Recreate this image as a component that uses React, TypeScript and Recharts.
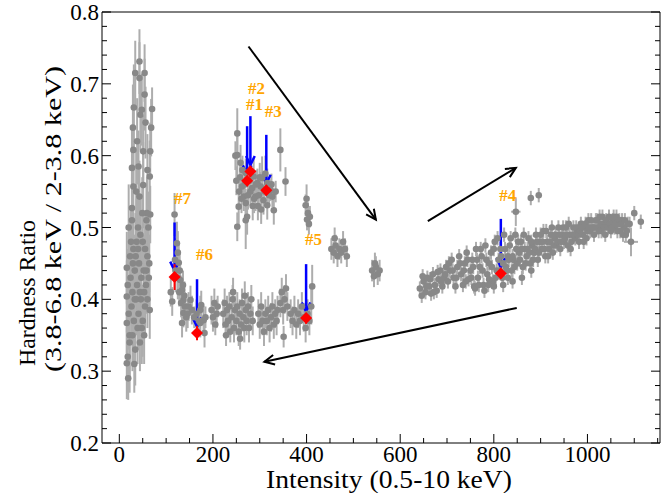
import React from 'react';
import { ScatterChart, Scatter, XAxis, YAxis, ErrorBar, ReferenceLine } from 'recharts';

// [intensity, hardness ratio, y error, x error]
type Pt = [number, number, number, number];

const lowStateColumn: Pt[] = [
  [43, 0.731, 0.045, 0], [34, 0.715, 0.045, 0], [54, 0.715, 0.04, 0], [43, 0.708, 0.05, 0],
  [31, 0.667, 0.06, 0], [70, 0.665, 0.03, 0], [45, 0.657, 0.05, 0], [54, 0.685, 0.05, 0],
  [29, 0.639, 0.06, 0], [56, 0.646, 0.05, 0], [68, 0.639, 0.04, 0], [48, 0.664, 0.05, 0],
  [51, 0.606, 0.05, 0], [66, 0.606, 0.04, 0], [30, 0.608, 0.06, 0], [41, 0.585, 0.05, 0],
  [27, 0.583, 0.06, 0], [65, 0.571, 0.05, 0], [51, 0.559, 0.06, 0], [30, 0.557, 0.06, 0],
  [43, 0.543, 0.05, 0], [27, 0.527, 0.06, 0], [59, 0.52, 0.05, 0], [66, 0.518, 0.04, 0],
  [16, 0.444, 0.05, 0], [16, 0.404, 0.05, 0], [16, 0.367, 0.05, 0], [16, 0.311, 0.05, 0],
  [19, 0.29, 0.03, 0], [22, 0.35, 0.08, 0], [65, 0.385, 0.04, 0], [20, 0.5, 0.06, 0],
  [25, 0.48, 0.05, 0], [30, 0.47, 0.05, 0], [35, 0.46, 0.06, 0], [40, 0.5, 0.05, 0],
  [45, 0.49, 0.05, 0], [50, 0.48, 0.04, 0], [55, 0.47, 0.05, 0], [60, 0.46, 0.04, 0],
  [62, 0.5, 0.05, 0], [18, 0.42, 0.05, 0], [24, 0.43, 0.06, 0], [28, 0.41, 0.05, 0],
  [33, 0.44, 0.05, 0], [38, 0.42, 0.05, 0], [42, 0.45, 0.04, 0], [47, 0.43, 0.05, 0],
  [52, 0.44, 0.05, 0], [57, 0.42, 0.04, 0], [63, 0.43, 0.04, 0], [20, 0.38, 0.05, 0],
  [26, 0.39, 0.05, 0], [31, 0.37, 0.06, 0], [36, 0.4, 0.05, 0], [41, 0.38, 0.05, 0],
  [46, 0.4, 0.04, 0], [50, 0.37, 0.05, 0], [55, 0.39, 0.04, 0], [60, 0.4, 0.04, 0],
  [22, 0.34, 0.05, 0], [28, 0.35, 0.05, 0], [34, 0.33, 0.05, 0], [39, 0.36, 0.05, 0],
  [44, 0.34, 0.04, 0], [48, 0.36, 0.05, 0], [53, 0.35, 0.04, 0], [18, 0.32, 0.05, 0],
  [32, 0.31, 0.04, 0], [37, 0.48, 0.06, 0], [27, 0.51, 0.06, 0], [58, 0.51, 0.05, 0],
  [64, 0.45, 0.04, 0], [49, 0.52, 0.05, 0], [23, 0.46, 0.05, 0], [36, 0.55, 0.06, 0],
  [60, 0.58, 0.05, 0], [38, 0.62, 0.06, 0], [29, 0.45, 0.05, 0], [44, 0.41, 0.05, 0],
  [58, 0.44, 0.04, 0], [33, 0.4, 0.05, 0], [53, 0.41, 0.04, 0], [40, 0.47, 0.05, 0],
];

const decayBranch: Pt[] = [
  [118, 0.518, 0.03, 0], [123, 0.478, 0.03, 0], [127, 0.451, 0.025, 0], [130, 0.427, 0.02, 0],
  [134, 0.413, 0.02, 0], [137, 0.399, 0.02, 0], [113, 0.397, 0.02, 0], [152, 0.399, 0.02, 0],
  [155, 0.385, 0.02, 0], [137, 0.381, 0.02, 0], [134, 0.367, 0.02, 0], [173, 0.385, 0.02, 0],
  [180, 0.371, 0.02, 0], [182, 0.353, 0.02, 0], [173, 0.367, 0.02, 0], [120, 0.44, 0.03, 0],
  [125, 0.43, 0.03, 0], [128, 0.41, 0.02, 0], [132, 0.395, 0.02, 0], [140, 0.39, 0.02, 0],
  [143, 0.375, 0.02, 0], [146, 0.38, 0.02, 0], [148, 0.39, 0.02, 0], [125, 0.465, 0.03, 0],
  [119, 0.455, 0.03, 0], [129, 0.44, 0.025, 0], [136, 0.42, 0.02, 0], [139, 0.405, 0.02, 0],
  [160, 0.375, 0.015, 0], [165, 0.38, 0.02, 0], [170, 0.37, 0.015, 0], [175, 0.392, 0.02, 0],
  [184, 0.375, 0.015, 0], [110, 0.41, 0.02, 0],
];

const softBand: Pt[] = [
  [197, 0.385, 0.02, 0], [200, 0.375, 0.02, 0], [203, 0.395, 0.02, 0], [205, 0.365, 0.015, 0],
  [208, 0.38, 0.02, 0], [210, 0.39, 0.015, 0], [222, 0.38, 0.02, 0], [225, 0.395, 0.02, 0],
  [227, 0.365, 0.02, 0], [230, 0.385, 0.02, 0], [232, 0.37, 0.02, 0], [235, 0.39, 0.02, 0],
  [237, 0.355, 0.015, 0], [240, 0.375, 0.02, 0], [242, 0.4, 0.02, 0], [245, 0.36, 0.02, 0],
  [247, 0.385, 0.02, 0], [250, 0.37, 0.02, 0], [252, 0.39, 0.02, 0], [255, 0.355, 0.02, 0],
  [257, 0.38, 0.02, 0], [260, 0.365, 0.02, 0], [262, 0.395, 0.02, 0], [265, 0.375, 0.02, 0],
  [267, 0.36, 0.02, 0], [270, 0.385, 0.02, 0], [272, 0.37, 0.02, 0], [275, 0.39, 0.02, 0],
  [277, 0.36, 0.02, 0], [280, 0.38, 0.02, 0], [282, 0.4, 0.02, 0], [285, 0.37, 0.02, 0],
  [243, 0.41, 0.02, 0], [228, 0.35, 0.015, 0], [258, 0.345, 0.015, 0], [268, 0.405, 0.02, 0],
  [297, 0.38, 0.02, 0], [300, 0.365, 0.02, 0], [303, 0.39, 0.02, 0], [306, 0.37, 0.02, 0],
  [309, 0.355, 0.02, 0], [312, 0.38, 0.02, 0], [315, 0.37, 0.02, 0], [318, 0.385, 0.02, 0],
  [321, 0.36, 0.02, 0], [324, 0.375, 0.02, 0], [327, 0.39, 0.02, 0], [330, 0.365, 0.02, 0],
  [333, 0.38, 0.02, 0], [336, 0.37, 0.02, 0], [338, 0.385, 0.02, 0], [344, 0.395, 0.02, 0],
  [347, 0.41, 0.02, 0], [350, 0.385, 0.02, 0], [353, 0.4, 0.02, 0], [356, 0.415, 0.02, 0],
  [359, 0.39, 0.02, 0], [351, 0.348, 0.015, 0], [366, 0.38, 0.02, 0], [370, 0.37, 0.02, 0],
  [374, 0.385, 0.02, 0], [378, 0.365, 0.02, 0], [382, 0.38, 0.02, 0], [386, 0.37, 0.02, 0],
  [390, 0.39, 0.02, 0], [394, 0.375, 0.02, 0], [398, 0.36, 0.02, 0], [402, 0.38, 0.02, 0],
  [406, 0.37, 0.02, 0], [410, 0.39, 0.025, 0], [412, 0.418, 0.03, 0],
];

const hardCluster: Pt[] = [
  [252, 0.631, 0.035, 0], [252, 0.601, 0.03, 0], [259, 0.59, 0.025, 0], [270, 0.576, 0.02, 0],
  [262, 0.557, 0.02, 0], [255, 0.529, 0.025, 0], [270, 0.534, 0.02, 0], [291, 0.543, 0.02, 0],
  [287, 0.571, 0.025, 0], [295, 0.562, 0.02, 0], [302, 0.557, 0.02, 0], [305, 0.569, 0.03, 0],
  [316, 0.562, 0.02, 0], [323, 0.552, 0.015, 0], [327, 0.543, 0.015, 0], [334, 0.55, 0.015, 0],
  [330, 0.524, 0.02, 0], [344, 0.608, 0.03, 0], [355, 0.564, 0.02, 0], [273, 0.515, 0.025, 0],
  [266, 0.543, 0.02, 0], [280, 0.55, 0.02, 0], [308, 0.538, 0.02, 0], [316, 0.531, 0.02, 0],
  [258, 0.57, 0.02, 0], [263, 0.58, 0.02, 0], [268, 0.56, 0.02, 0], [275, 0.545, 0.02, 0],
  [278, 0.565, 0.02, 0], [284, 0.555, 0.02, 0], [288, 0.54, 0.02, 0], [292, 0.56, 0.02, 0],
  [298, 0.545, 0.02, 0], [300, 0.57, 0.02, 0], [310, 0.55, 0.02, 0], [312, 0.575, 0.025, 0],
  [320, 0.545, 0.015, 0], [325, 0.56, 0.015, 0], [256, 0.55, 0.02, 0], [261, 0.54, 0.02, 0],
  [250, 0.565, 0.02, 0], [285, 0.53, 0.02, 0], [296, 0.53, 0.02, 0], [303, 0.525, 0.02, 0],
  [248, 0.6, 0.02, 0], [252, 0.501, 0.02, 0], [270, 0.51, 0.04, 0],
];

const transitionPts: Pt[] = [
  [398, 0.531, 0.015, 0], [401, 0.511, 0.015, 0], [403, 0.52, 0.015, 0], [405, 0.505, 0.015, 0],
  [400, 0.54, 0.02, 0], [407, 0.515, 0.015, 0], [453, 0.47, 0.015, 0], [458, 0.465, 0.015, 0],
  [462, 0.475, 0.015, 0], [466, 0.46, 0.015, 0], [470, 0.47, 0.015, 0], [474, 0.465, 0.015, 0],
  [478, 0.48, 0.015, 0], [482, 0.47, 0.015, 0], [486, 0.46, 0.015, 0], [460, 0.485, 0.015, 0],
  [540, 0.44, 0.015, 0], [544, 0.432, 0.015, 0], [548, 0.445, 0.015, 0], [552, 0.435, 0.015, 0],
  [556, 0.44, 0.015, 0], [546, 0.45, 0.015, 0],
];

const brightBand: Pt[] = [
  [642, 0.415, 0.01, 6], [646, 0.405, 0.01, 6], [650, 0.425, 0.01, 6], [654, 0.41, 0.01, 6],
  [658, 0.43, 0.01, 6], [662, 0.418, 0.01, 6], [666, 0.408, 0.01, 6], [670, 0.435, 0.01, 6],
  [674, 0.42, 0.01, 6], [678, 0.412, 0.01, 6], [682, 0.428, 0.01, 6], [686, 0.44, 0.01, 6],
  [690, 0.418, 0.01, 6], [694, 0.43, 0.01, 6], [698, 0.445, 0.01, 6], [702, 0.425, 0.01, 6],
  [706, 0.44, 0.01, 6], [710, 0.455, 0.01, 6], [714, 0.43, 0.01, 6], [718, 0.418, 0.01, 6],
  [722, 0.445, 0.01, 6], [726, 0.46, 0.01, 6], [730, 0.435, 0.01, 6], [734, 0.42, 0.01, 6],
  [738, 0.45, 0.01, 6], [742, 0.465, 0.01, 6], [746, 0.428, 0.01, 6], [750, 0.44, 0.01, 6],
  [754, 0.455, 0.01, 6], [758, 0.418, 0.01, 6], [762, 0.47, 0.01, 6], [766, 0.43, 0.01, 6],
  [770, 0.445, 0.01, 6], [774, 0.46, 0.01, 6], [778, 0.42, 0.01, 6], [782, 0.475, 0.01, 6],
  [786, 0.435, 0.01, 6], [790, 0.45, 0.01, 6], [794, 0.465, 0.01, 6], [798, 0.425, 0.01, 6],
  [802, 0.48, 0.01, 6], [806, 0.44, 0.01, 6], [810, 0.455, 0.01, 6], [814, 0.47, 0.01, 6],
  [818, 0.43, 0.01, 6], [822, 0.49, 0.01, 6], [826, 0.445, 0.01, 6], [830, 0.46, 0.01, 6],
  [834, 0.475, 0.01, 6], [838, 0.44, 0.01, 6], [842, 0.455, 0.01, 6], [846, 0.49, 0.01, 6],
  [850, 0.45, 0.01, 6], [854, 0.465, 0.01, 6], [858, 0.48, 0.01, 6], [862, 0.445, 0.01, 6],
  [866, 0.47, 0.01, 6], [870, 0.46, 0.01, 6], [874, 0.485, 0.01, 6], [878, 0.45, 0.01, 6],
  [882, 0.475, 0.01, 6], [886, 0.465, 0.01, 6], [890, 0.49, 0.01, 6], [894, 0.455, 0.01, 6],
  [898, 0.48, 0.01, 6], [902, 0.47, 0.01, 6], [906, 0.495, 0.01, 6], [910, 0.46, 0.01, 6],
  [914, 0.48, 0.01, 6], [918, 0.47, 0.01, 6], [922, 0.49, 0.01, 6], [926, 0.465, 0.01, 6],
  [930, 0.485, 0.01, 6], [934, 0.475, 0.01, 6], [938, 0.5, 0.01, 6], [942, 0.47, 0.01, 6],
  [946, 0.49, 0.01, 6], [950, 0.48, 0.01, 6], [954, 0.5, 0.01, 6], [958, 0.475, 0.01, 6],
  [962, 0.49, 0.01, 6], [966, 0.48, 0.01, 6], [970, 0.5, 0.01, 6], [974, 0.485, 0.01, 6],
  [978, 0.495, 0.01, 6], [982, 0.48, 0.01, 6], [986, 0.505, 0.01, 6], [990, 0.49, 0.01, 6],
  [994, 0.5, 0.01, 6], [998, 0.485, 0.01, 6], [1002, 0.51, 0.01, 6], [1006, 0.495, 0.01, 6],
  [1010, 0.5, 0.01, 6], [1014, 0.49, 0.01, 6], [1018, 0.51, 0.01, 6], [1022, 0.5, 0.01, 6],
  [1026, 0.515, 0.01, 6], [1030, 0.495, 0.01, 6], [1034, 0.505, 0.01, 6], [1038, 0.49, 0.01, 6],
  [1042, 0.505, 0.01, 6], [1046, 0.515, 0.01, 6], [1050, 0.495, 0.01, 6], [1054, 0.51, 0.01, 6],
  [1058, 0.5, 0.01, 6], [1062, 0.515, 0.01, 6], [1066, 0.505, 0.01, 6], [1070, 0.495, 0.01, 6],
  [1074, 0.51, 0.01, 6], [1078, 0.5, 0.01, 6], [1082, 0.49, 0.01, 6], [1086, 0.505, 0.01, 6],
  [1100, 0.52, 0.01, 6], [1114, 0.508, 0.01, 6], [1093, 0.48, 0.02, 15], [879, 0.541, 0.01, 6],
  [896, 0.545, 0.01, 6], [847, 0.522, 0.02, 10], [740, 0.425, 0.01, 6], [760, 0.415, 0.01, 6],
  [780, 0.412, 0.01, 6], [800, 0.418, 0.01, 6], [820, 0.42, 0.01, 6], [840, 0.425, 0.01, 6],
  [860, 0.43, 0.01, 6], [880, 0.44, 0.01, 6], [790, 0.428, 0.01, 6], [830, 0.43, 0.01, 6],
];

const brightBandFill: Pt[] = [
  [648, 0.432, 0.01, 6], [656, 0.418, 0.01, 6], [664, 0.428, 0.01, 6], [672, 0.41, 0.01, 6],
  [680, 0.438, 0.01, 6], [688, 0.425, 0.01, 6], [696, 0.435, 0.01, 6], [704, 0.45, 0.01, 6],
  [712, 0.44, 0.01, 6], [720, 0.43, 0.01, 6], [728, 0.45, 0.01, 6], [736, 0.44, 0.01, 6],
  [744, 0.455, 0.01, 6], [752, 0.43, 0.01, 6], [756, 0.445, 0.01, 6], [764, 0.455, 0.01, 6],
  [768, 0.42, 0.01, 6], [772, 0.47, 0.01, 6], [776, 0.44, 0.01, 6], [784, 0.455, 0.01, 6],
  [788, 0.42, 0.01, 6], [796, 0.445, 0.01, 6], [800, 0.47, 0.01, 6], [804, 0.43, 0.01, 6],
  [808, 0.485, 0.01, 6], [812, 0.44, 0.01, 6], [816, 0.46, 0.01, 6], [820, 0.45, 0.01, 6],
  [824, 0.47, 0.01, 6], [828, 0.44, 0.01, 6], [832, 0.455, 0.01, 6], [836, 0.485, 0.01, 6],
  [840, 0.46, 0.01, 6], [844, 0.445, 0.01, 6], [848, 0.47, 0.01, 6], [852, 0.48, 0.01, 6],
  [856, 0.455, 0.01, 6], [860, 0.47, 0.01, 6], [864, 0.49, 0.01, 6], [868, 0.45, 0.01, 6],
  [872, 0.47, 0.01, 6], [876, 0.465, 0.01, 6], [880, 0.48, 0.01, 6], [884, 0.455, 0.01, 6],
  [888, 0.47, 0.01, 6], [892, 0.48, 0.01, 6], [896, 0.465, 0.01, 6], [900, 0.49, 0.01, 6],
  [904, 0.48, 0.01, 6], [908, 0.47, 0.01, 6], [912, 0.495, 0.01, 6], [916, 0.46, 0.01, 6],
  [920, 0.48, 0.01, 6], [924, 0.5, 0.01, 6], [928, 0.475, 0.01, 6], [932, 0.49, 0.01, 6],
  [936, 0.48, 0.01, 6], [940, 0.49, 0.01, 6], [944, 0.48, 0.01, 6], [948, 0.5, 0.01, 6],
  [952, 0.485, 0.01, 6], [956, 0.49, 0.01, 6], [960, 0.505, 0.01, 6], [964, 0.47, 0.01, 6],
  [968, 0.49, 0.01, 6], [972, 0.49, 0.01, 6], [976, 0.5, 0.01, 6], [980, 0.49, 0.01, 6],
  [984, 0.495, 0.01, 6], [988, 0.5, 0.01, 6], [992, 0.48, 0.01, 6], [996, 0.505, 0.01, 6],
  [1000, 0.495, 0.01, 6], [1004, 0.5, 0.01, 6], [1008, 0.51, 0.01, 6], [1012, 0.5, 0.01, 6],
  [1016, 0.5, 0.01, 6], [1020, 0.51, 0.01, 6], [1024, 0.495, 0.01, 6], [1028, 0.505, 0.01, 6],
  [1032, 0.515, 0.01, 6], [1036, 0.5, 0.01, 6], [1040, 0.51, 0.01, 6], [1044, 0.5, 0.01, 6],
  [1048, 0.505, 0.01, 6], [1052, 0.5, 0.01, 6], [1056, 0.515, 0.01, 6], [1060, 0.505, 0.01, 6],
  [1064, 0.495, 0.01, 6], [1068, 0.51, 0.01, 6], [1072, 0.505, 0.01, 6], [1076, 0.49, 0.01, 6],
  [1080, 0.51, 0.01, 6], [1084, 0.495, 0.01, 6], [1090, 0.505, 0.01, 6],
];

// selected epochs #1..#7: position and y error
const epochNames = ['#1', '#2', '#3', '#4', '#5', '#6', '#7'];
const epochX = [273, 280, 314, 815, 399, 166, 118];
const epochY = [0.565, 0.578, 0.552, 0.436, 0.374, 0.353, 0.431];
const epochErr = [0.008, 0.008, 0.008, 0.008, 0.008, 0.01, 0.018];
const arrowTopY = [0.641, 0.655, 0.629, 0.512, 0.449, 0.428, 0.507];
const labelX = [289, 293, 329, 830, 415, 182, 135];
const labelY = [0.671, 0.693, 0.661, 0.545, 0.483, 0.462, 0.54];

// evolution arrows [x1, y1, x2, y2]
const trendArrows = [
  [276, 0.752, 548, 0.511],
  [659, 0.509, 847, 0.583],
  [849, 0.388, 310, 0.313],
];

const xTicks = [0, 50, 100, 150, 200, 250, 300, 350, 400, 450, 500, 550, 600, 650, 700, 750, 800, 850, 900, 950, 1000, 1050, 1100, 1150];
const yTicks = [0.2, 0.22, 0.24, 0.26, 0.28, 0.3, 0.32, 0.34, 0.36, 0.38, 0.4, 0.42, 0.44, 0.46, 0.48, 0.5, 0.52, 0.54, 0.56, 0.58, 0.6, 0.62, 0.64, 0.66, 0.68, 0.7, 0.72, 0.74, 0.76, 0.78, 0.8];

const X_DOMAIN: [number, number] = [-37, 1155];
const Y_DOMAIN: [number, number] = [0.2, 0.8];
const FONT = '"Liberation Serif", "Times New Roman", serif';

const grayData = [...lowStateColumn, ...decayBranch, ...softBand, ...hardCluster, ...transitionPts, ...brightBand, ...brightBandFill]
  .map(([x, y, ey, ex]) => ({ x, y, ey, ex }));
const epochData = epochNames.map((n, i) => ({ name: n, x: epochX[i], y: epochY[i], ey: epochErr[i] }));
const labelData = epochNames.map((n, i) => ({ name: n, x: labelX[i], y: labelY[i] }));

const isMajorY = (v: number) => Math.abs(v * 10 - Math.round(v * 10)) < 1e-6;

const BottomTick = (p: any) => {
  const v = p.payload.value;
  const major = v % 200 === 0;
  return (
    <g>
      <line x1={p.x} x2={p.x} y1={p.y} y2={p.y - (major ? 9 : 5)} stroke="#000" />
      {major && (
        <text x={p.x} y={p.y + 19} textAnchor="middle" fontSize={23} fontFamily={FONT} fill="#000">{v}</text>
      )}
    </g>
  );
};
const TopTick = (p: any) => {
  const major = p.payload.value % 200 === 0;
  return <line x1={p.x} x2={p.x} y1={p.y} y2={p.y + (major ? 9 : 5)} stroke="#000" />;
};
const LeftTick = (p: any) => {
  const v = p.payload.value;
  const major = isMajorY(v);
  return (
    <g>
      <line x1={p.x} x2={p.x + (major ? 9 : 5)} y1={p.y} y2={p.y} stroke="#000" />
      {major && (
        <text x={p.x - 3} y={p.y + 8} textAnchor="end" fontSize={23} fontFamily={FONT} fill="#000">{v.toFixed(1)}</text>
      )}
    </g>
  );
};
const RightTick = (p: any) => {
  const major = isMajorY(p.payload.value);
  return <line x1={p.x} x2={p.x - (major ? 9 : 5)} y1={p.y} y2={p.y} stroke="#000" />;
};

const arrowShape = (color: string, w: number, len: number) => (p: any) => {
  const { x1, y1, x2, y2 } = p;
  const a = Math.atan2(y2 - y1, x2 - x1);
  const s = 0.45;
  const ax = x2 - len * Math.cos(a - s);
  const ay = y2 - len * Math.sin(a - s);
  const bx = x2 - len * Math.cos(a + s);
  const by = y2 - len * Math.sin(a + s);
  return (
    <g>
      <line x1={x1} y1={y1} x2={x2} y2={y2} stroke={color} strokeWidth={w} />
      <polyline points={`${ax},${ay} ${x2},${y2} ${bx},${by}`} fill="none" stroke={color} strokeWidth={w} />
    </g>
  );
};

const XTitle = () => (
  <text x={389} y={488} textAnchor="middle" fontSize={25} fontFamily={FONT} fill="#000" textLength={246} lengthAdjust="spacingAndGlyphs">
    Intensity (0.5-10 keV)
  </text>
);
const YTitle = () => (
  <g fontSize={24} fontFamily={FONT} fill="#000">
    <text x={27} y={366} textAnchor="start" dominantBaseline="central" transform="rotate(-90, 27, 366)" textLength={146} lengthAdjust="spacingAndGlyphs">
      Hardness Ratio
    </text>
    <text x={53} y={372} textAnchor="start" dominantBaseline="central" transform="rotate(-90, 53, 372)" textLength={306} lengthAdjust="spacingAndGlyphs">
      (3.8-6.8 keV / 2-3.8 keV)
    </text>
  </g>
);

export default function App() {
  return (
    <div style={{ width: 670, height: 493 }}>
      <style>{'body{margin:0}'}</style>
      <ScatterChart width={670} height={493} margin={{ top: 11, right: 9, bottom: 49, left: 101 }}>
        <XAxis
          xAxisId={0}
          dataKey="x"
          type="number"
          domain={X_DOMAIN}
          allowDataOverflow
          ticks={xTicks}
          interval={0}
          height={1}
          tickSize={0}
          tickMargin={0}
          tick={<BottomTick />}
          axisLine={{ stroke: '#000' }}
          tickLine={false}
          label={{ content: <XTitle /> }}
        />
        <XAxis
          xAxisId="top"
          orientation="top"
          type="number"
          domain={X_DOMAIN}
          allowDataOverflow
          ticks={xTicks}
          interval={0}
          height={1}
          tickSize={0}
          tickMargin={0}
          tick={<TopTick />}
          axisLine={{ stroke: '#000' }}
          tickLine={false}
        />
        <YAxis
          yAxisId={0}
          dataKey="y"
          type="number"
          domain={Y_DOMAIN}
          allowDataOverflow
          ticks={yTicks}
          interval={0}
          width={1}
          tickSize={0}
          tickMargin={0}
          tick={<LeftTick />}
          axisLine={{ stroke: '#000' }}
          tickLine={false}
          label={{ content: <YTitle /> }}
        />
        <YAxis
          yAxisId="right"
          orientation="right"
          type="number"
          domain={Y_DOMAIN}
          allowDataOverflow
          ticks={yTicks}
          interval={0}
          width={1}
          tickSize={0}
          tickMargin={0}
          tick={<RightTick />}
          axisLine={{ stroke: '#000' }}
          tickLine={false}
        />
        <Scatter data={grayData} shape={() => <g />} isAnimationActive={false}>
          <ErrorBar dataKey="ey" direction="y" width={0} stroke="#adadad" strokeWidth={2} />
          <ErrorBar dataKey="ex" direction="x" width={0} stroke="#adadad" strokeWidth={2} />
        </Scatter>
        <Scatter
          data={grayData}
          isAnimationActive={false}
          shape={(p: any) => <circle cx={p.cx} cy={p.cy} r={3.3} fill="#888888" />}
        />
        {trendArrows.map((a, i) => (
          <ReferenceLine
            key={`t${i}`}
            segment={[{ x: a[0], y: a[1] }, { x: a[2], y: a[3] }]}
            ifOverflow="visible"
            shape={arrowShape('#000', 2, 11)}
          />
        ))}
        {epochData.map((d, i) => (
          <ReferenceLine
            key={`b${i}`}
            segment={[{ x: d.x, y: arrowTopY[i] }, { x: d.x, y: d.y + 0.009 }]}
            ifOverflow="visible"
            shape={arrowShape('#0000ff', 2.5, 10)}
          />
        ))}
        <Scatter
          data={epochData}
          isAnimationActive={false}
          shape={(p: any) => (
            <polygon
              points={`${p.cx},${p.cy - 6} ${p.cx + 6},${p.cy} ${p.cx},${p.cy + 6} ${p.cx - 6},${p.cy}`}
              fill="#ff0000"
            />
          )}
        >
          <ErrorBar dataKey="ey" direction="y" width={0} stroke="#ff0000" strokeWidth={2} />
        </Scatter>
        <Scatter
          data={labelData}
          isAnimationActive={false}
          shape={(p: any) => (
            <text
              x={p.cx}
              y={p.cy}
              textAnchor="middle"
              dominantBaseline="central"
              fontSize={17}
              fontWeight="bold"
              fontFamily={FONT}
              fill="#ffa500"
            >
              {p.payload.name}
            </text>
          )}
        />
      </ScatterChart>
    </div>
  );
}
